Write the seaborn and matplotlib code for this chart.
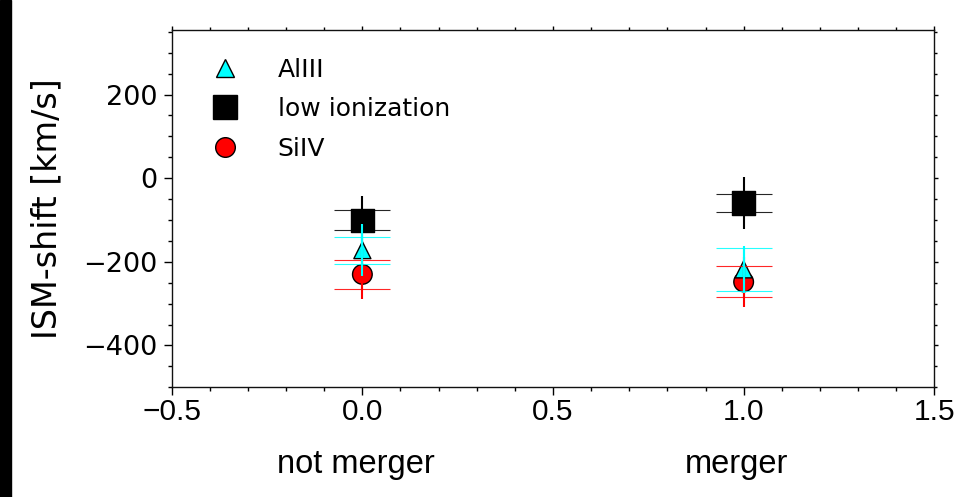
import matplotlib
matplotlib.use("Agg")
import matplotlib.pyplot as plt
from matplotlib.ticker import MultipleLocator, FixedLocator
from matplotlib.patches import Rectangle
import matplotlib.transforms as mtransforms
import numpy as np
import pandas as pd
import seaborn as sns

# Mean ISM velocity shift per group, with two error estimates
groups = ["not merger", "merger"]
group_pos = [0.0, 1.0]
lines = ["AlIII", "low ionization", "SiIV"]

alIII_shift = [-172, -218]
alIII_err = [62, 56]
alIII_err_cap = [32, 52]

lowion_shift = [-101, -60]
lowion_err = [59, 62]
lowion_err_cap = [24, 22]

siIV_shift = [-230, -248]
siIV_err = [60, 60]
siIV_err_cap = [35, 37]

xtick_values = [-0.5, 0.0, 0.5, 1.0, 1.5]
ytick_values = [-400, -200, 0, 200]

colors = {"AlIII": "cyan", "low ionization": "black", "SiIV": "red"}
markers = {"AlIII": "^", "low ionization": "s", "SiIV": "o"}
sizes = {"AlIII": 150, "low ionization": 290, "SiIV": 200}

series = {
    "AlIII": (alIII_shift, alIII_err, alIII_err_cap),
    "low ionization": (lowion_shift, lowion_err, lowion_err_cap),
    "SiIV": (siIV_shift, siIV_err, siIV_err_cap),
}

# SiIV rows first so the triangles sit on top of the circles
rows = []
for name in ["SiIV", "low ionization", "AlIII"]:
    for x, v in zip(group_pos, series[name][0]):
        rows.append({"x": x, "shift": v, "line": name})
df = pd.DataFrame(rows)

sns.set_style("ticks")
plt.rcParams["font.family"] = ["DejaVu Sans"]
plt.rcParams["text.color"] = "black"
plt.rcParams["axes.labelcolor"] = "black"
plt.rcParams["xtick.color"] = "black"
plt.rcParams["ytick.color"] = "black"
plt.rcParams["axes.edgecolor"] = "black"

fig = plt.figure(figsize=(9.73, 4.97), dpi=100)
ax = fig.add_axes([0.1765, 0.2207, 0.9602 - 0.1765, 0.9402 - 0.2207])

sns.scatterplot(
    data=df, x="x", y="shift", hue="line", style="line", size="line",
    hue_order=lines, style_order=lines, size_order=lines,
    palette=colors, markers=markers, sizes=sizes,
    edgecolor="black", linewidth=1.0, zorder=2, ax=ax,
)

# error bars: long bar without caps, shorter bar with wide caps
for name in ["low ionization", "SiIV", "AlIII"]:
    vals, err, err_cap = series[name]
    c = colors[name]
    ax.errorbar(group_pos, vals, yerr=err, fmt="none", ecolor=c,
                elinewidth=1.5, capsize=0, zorder=3)
    ax.errorbar(group_pos, vals, yerr=err_cap, fmt="none", ecolor=c,
                elinewidth=1.5, capsize=20, capthick=0.8, zorder=3,
                alpha=0.85)

ax.set_xlim(-0.5, 1.5)
ax.set_ylim(-500, 355)

ax.xaxis.set_major_locator(FixedLocator(xtick_values))
ax.xaxis.set_minor_locator(MultipleLocator(0.1))
ax.yaxis.set_major_locator(FixedLocator(ytick_values))
ax.yaxis.set_minor_locator(MultipleLocator(50))
ax.set_xticklabels([f"{v:.1f}".replace("-", "\u2212") for v in xtick_values],
                   family=["Liberation Sans", "DejaVu Sans"], fontsize=21.5)
ax.set_yticklabels([f"{v}".replace("-", "\u2212") for v in ytick_values],
                   fontsize=19.5)

ax.tick_params(which="both", direction="out", top=True, right=True,
               color="black", width=1.0)
ax.tick_params(which="major", length=6)
ax.tick_params(which="minor", length=3)
ax.tick_params(axis="x", which="major", pad=2)
ax.tick_params(axis="y", which="major", pad=4)
for t in ax.xaxis.get_major_ticks() + ax.yaxis.get_major_ticks():
    t.tick2line.set_markersize(3)
for t in ax.xaxis.get_minor_ticks() + ax.yaxis.get_minor_ticks():
    t.tick2line.set_markersize(2)

for sp in ax.spines.values():
    sp.set_linewidth(1.0)
    sp.set_color("#111111")

ax.set_xlabel("")
ax.set_ylabel("ISM-shift [km/s]", fontsize=24)
ax.yaxis.set_label_coords(-0.142, 0.5)

# group names beneath the tick labels
trans = mtransforms.blended_transform_factory(ax.transData, ax.transAxes)
for x, g in zip(group_pos, groups):
    ax.text(x - 0.018, -0.24, g, transform=trans, ha="center", va="baseline",
            fontsize=23.5, family=["Liberation Sans", "DejaVu Sans"])

sns.move_legend(ax, "upper left", bbox_to_anchor=(0.008, 0.985), frameon=False,
                fontsize=18, title=None, handletextpad=1.1, labelspacing=0.62)

# dark strip along the left edge
fig.add_artist(Rectangle((0, 0), 11 / 973, 1, transform=fig.transFigure,
                         color="black", zorder=10))

fig.savefig("out.png", dpi=100)
